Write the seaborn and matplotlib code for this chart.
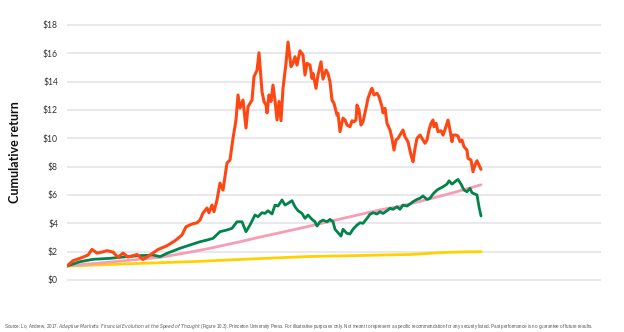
import matplotlib
matplotlib.use("Agg")
import matplotlib.pyplot as plt
import pandas as pd
import seaborn as sns

# ---------------- data (period index, cumulative return in $) ----------------
period_orange = [0, 6, 13, 21, 25, 30, 35, 40, 46, 51, 56, 61, 70, 76, 83, 91, 100, 108, 115, 119,
                 125, 130, 133, 136, 140, 142, 145, 147, 150, 153, 156, 160, 163, 166, 169, 171, 173, 176, 179, 181,
                 185, 187, 190, 192, 195, 197, 199, 200, 202, 204, 206, 208, 210, 212, 214, 216, 219, 221, 224, 226,
                 228, 230, 233, 236, 238, 240, 243, 245, 246, 249, 251, 254, 256, 259, 261, 263, 265, 267, 270, 271,
                 273, 276, 278, 280, 283, 285, 287, 289, 290, 292, 294, 296, 299, 301, 304, 305, 307, 310, 312, 315,
                 316, 318, 320, 323, 325, 327, 329, 331, 334, 336, 338, 341, 344, 346, 348, 350, 353, 356, 358, 360,
                 362, 364, 366, 367, 369, 371, 374, 376, 379, 381, 383, 385, 386, 389, 391, 393, 395, 397, 400, 401,
                 404, 406, 408, 410, 412, 414]
value_orange = [0.99, 1.36, 1.53, 1.76, 2.16, 1.90, 1.97, 2.07, 1.97, 1.60, 1.90, 1.62, 1.80, 1.45, 1.76, 2.15, 2.42, 2.77, 3.18, 3.76,
                3.95, 4.04, 4.23, 4.73, 5.08, 4.75, 5.29, 4.82, 5.65, 6.84, 6.35, 8.26, 8.47, 10.0, 11.3, 13.06, 12.14, 12.70, 10.73, 12.23,
                12.70, 14.35, 14.80, 16.04, 13.30, 12.60, 12.35, 11.80, 13.06, 12.60, 13.76, 12.70, 11.30, 12.60, 11.24, 13.53, 15.30, 16.80, 15.05, 15.30,
                15.76, 15.17, 16.18, 15.88, 14.47, 15.29, 15.17, 14.23, 14.58, 13.53, 14.47, 15.40, 14.18, 14.82, 14.58, 13.99, 12.70, 12.47, 11.64, 11.76,
                10.47, 11.43, 11.29, 10.94, 10.82, 11.24, 11.17, 11.29, 12.35, 12.00, 10.94, 11.17, 12.12, 12.82, 13.41, 13.53, 13.06, 13.18, 12.94, 12.23,
                11.80, 12.12, 11.06, 10.59, 10.00, 9.17, 9.88, 10.00, 10.35, 10.59, 10.11, 9.76, 8.82, 8.35, 9.29, 10.00, 10.23, 9.88, 9.65, 9.88,
                10.59, 11.06, 11.29, 10.82, 11.06, 10.47, 10.54, 10.23, 10.82, 11.29, 10.59, 9.76, 10.23, 10.23, 10.16, 9.76, 9.88, 9.41, 9.17, 8.59,
                8.47, 7.64, 8.12, 8.42, 8.12, 7.81]

period_green = [0, 13, 26, 43, 60, 73, 86, 93, 100, 113, 126, 133, 140, 146, 153, 160, 165, 170, 175, 179,
                183, 188, 191, 195, 198, 201, 205, 208, 211, 215, 218, 221, 225, 228, 231, 235, 238, 241, 245, 248,
                250, 253, 256, 260, 263, 266, 268, 271, 274, 276, 280, 283, 286, 290, 293, 296, 300, 303, 306, 310,
                313, 316, 320, 323, 326, 330, 333, 336, 340, 343, 346, 350, 353, 356, 360, 363, 366, 370, 373, 376,
                380, 382, 385, 388, 391, 394, 397, 400, 403, 405, 410, 412, 414]
value_green = [0.99, 1.29, 1.46, 1.53, 1.65, 1.72, 1.76, 1.65, 1.88, 2.24, 2.54, 2.70, 2.82, 2.94, 3.41, 3.53, 3.65, 4.11, 4.11, 3.41,
               3.88, 4.59, 4.47, 4.75, 4.70, 4.89, 4.66, 5.29, 5.22, 5.65, 5.29, 5.41, 5.60, 5.17, 4.89, 4.70, 4.35, 4.59, 4.28, 4.11,
               3.81, 4.11, 4.23, 4.11, 4.28, 4.11, 3.58, 3.34, 3.10, 3.58, 3.29, 3.25, 3.58, 3.88, 4.04, 4.00, 4.35, 4.64, 4.75, 4.66,
               4.82, 4.70, 4.89, 5.06, 4.99, 5.17, 4.99, 5.29, 5.22, 5.36, 5.53, 5.69, 5.77, 5.93, 5.69, 5.77, 6.07, 6.35, 6.47, 6.58,
               6.77, 7.00, 6.77, 6.94, 7.10, 6.77, 6.35, 6.23, 6.47, 6.16, 6.00, 5.17, 4.52]

period_pink = [0, 33, 63, 93, 118, 143, 173, 193, 233, 273, 313, 333, 353, 383, 414]
value_pink = [1.00, 1.20, 1.40, 1.60, 1.90, 2.24, 2.70, 3.03, 3.65, 4.30, 4.95, 5.20, 5.55, 6.10, 6.72]

period_yellow = [0, 33, 63, 93, 133, 173, 213, 243, 273, 313, 343, 373, 393, 414]
value_yellow = [0.98, 1.07, 1.15, 1.22, 1.32, 1.45, 1.57, 1.66, 1.70, 1.76, 1.80, 1.93, 1.98, 2.00]

y_ticks = [0, 2, 4, 6, 8, 10, 12, 14, 16, 18]
y_tick_labels = ["$0", "$2", "$4", "$6", "$8", "$10", "$12", "$14", "$16", "$18"]

series_names = ["Yellow", "Pink", "Green", "Orange"]
series_colors = {"Yellow": "#FFD100", "Pink": "#F49FB6", "Green": "#00844A", "Orange": "#FF4713"}
series_widths = {"Yellow": 2.0, "Pink": 2.0, "Green": 2.0, "Orange": 2.2}

frames = []
for name, xs, ys in [("Yellow", period_yellow, value_yellow), ("Pink", period_pink, value_pink),
                     ("Green", period_green, value_green), ("Orange", period_orange, value_orange)]:
    frames.append(pd.DataFrame({"period": xs, "value": ys, "series": name}))
df = pd.concat(frames, ignore_index=True)

# ---------------- style ----------------
sns.set_theme(style="white")
plt.rcParams['font.family'] = ['Lato', 'DejaVu Sans']
plt.rcParams['mathtext.fontset'] = 'custom'
plt.rcParams['mathtext.rm'] = 'Liberation Sans Narrow'
plt.rcParams['mathtext.it'] = 'Liberation Sans Narrow:italic'
plt.rcParams['mathtext.bf'] = 'Liberation Sans Narrow:bold'

W, H = 624, 332
fig = plt.figure(figsize=(W / 100, H / 100), dpi=100)
pad_units = 0.15
ppu = 255 / 18.0
top_px = 25 - pad_units * ppu
bot_px = 280 + pad_units * ppu
ax = fig.add_axes([67 / W, 1 - bot_px / H, 534 / W, (bot_px - top_px) / H])

for i, name in enumerate(series_names):
    sub = df[df["series"] == name]
    sns.lineplot(data=sub, x="period", y="value", color=series_colors[name],
                 linewidth=series_widths[name], estimator=None, sort=False, ax=ax,
                 zorder=3 + i, solid_joinstyle="round", solid_capstyle="round")

ax.set_xlim(0, 534)
ax.set_ylim(-pad_units, 18 + pad_units)
ax.set_yticks(y_ticks)
ax.set_yticklabels(y_tick_labels)
ax.set_xticks([])
ax.set_xlabel("")
ax.set_ylabel("")
ax.yaxis.grid(True, color="#E2E2E8", linewidth=1.1)
ax.set_axisbelow(True)
for s in ax.spines.values():
    s.set_visible(False)
ax.tick_params(axis="y", length=0, pad=6.5, labelsize=6.2, labelcolor="#333333")

fig.text(15 / W, 1 - 152 / H, "Cumulative return", rotation=90, fontsize=9,
         fontweight="bold", color="#111111", ha="center", va="center")

# ---------------- footer source line ----------------
foot_fam = ['Liberation Sans Narrow', 'Liberation Sans', 'DejaVu Sans']
footer = (r"Source: Lo, Andrew, 2017. $\mathit{Adaptive\ Markets}$: "
          r"$\mathit{Financial\ Evolution\ at\ the\ Speed\ of\ Thought}$ "
          "(Figure 10.3). Princeton University Press. For illustrative purposes only. "
          "Not meant to represent a specific recommendation for any security listed. "
          "Past performance is no guarantee of future results.")

fs = 4.5
ft = fig.text(4 / W, 1 - 328 / H, footer, fontsize=fs, family=foot_fam,
              color="#555555", ha="left", va="baseline")
fig.canvas.draw()
for _ in range(3):
    bb = ft.get_window_extent(renderer=fig.canvas.get_renderer())
    fs = fs * (601 - 4) / bb.width
    ft.set_fontsize(fs)
    fig.canvas.draw()

fig.savefig("out.png", dpi=100)
